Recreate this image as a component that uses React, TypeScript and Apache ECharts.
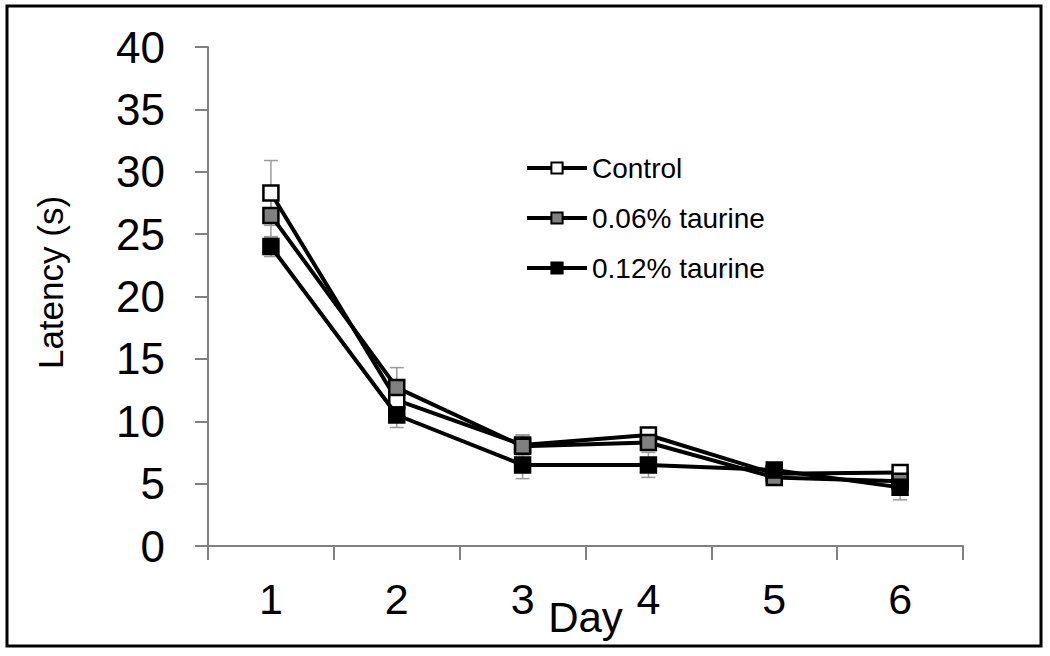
import React, { useEffect, useRef } from "react";
import * as echarts from "echarts";

const days = ["1", "2", "3", "4", "5", "6"];
const seriesNames = ["Control", "0.06% taurine", "0.12% taurine"];
const control = [28.3, 11.7, 8.1, 8.9, 5.8, 5.9];
const taurine006 = [26.5, 12.7, 8.0, 8.3, 5.5, 5.2];
const taurine012 = [24.0, 10.5, 6.5, 6.5, 6.1, 4.7];
const controlErr = [2.6, 1.2, 0.8, 0.6, 0.5, 0.5];
const taurine006Err = [1.8, 1.6, 0.9, 0.6, 0.5, 0.5];
const taurine012Err = [0.8, 1.0, 1.1, 1.0, 0.5, 1.0];
const yTicks = { min: 0, max: 40, interval: 5 };

const FONT = "Liberation Sans, Arial, sans-serif";

export default function App() {
  const ref = useRef<HTMLDivElement>(null);
  useEffect(() => {
    if (!ref.current) return;
    const chart = echarts.init(ref.current, null, { renderer: "svg" });
    const values = [control, taurine006, taurine012];
    const errs = [controlErr, taurine006Err, taurine012Err];
    const fills = ["#ffffff", "#808080", "#000000"];

    const errorSeries = values.map((vals, si) => ({
      type: "custom",
      name: seriesNames[si] + " error",
      z: 1,
      silent: true,
      data: vals.map((v, i) => [i, v - errs[si][i], v + errs[si][i]]),
      renderItem: (params: any, api: any) => {
        const x = api.value(0);
        const lo = api.coord([x, api.value(1)]);
        const hi = api.coord([x, api.value(2)]);
        const w = 7;
        const st = { stroke: "#9a9a9a", lineWidth: 1.5 };
        return {
          type: "group",
          children: [
            { type: "line", shape: { x1: lo[0], y1: lo[1], x2: hi[0], y2: hi[1] }, style: st },
            { type: "line", shape: { x1: lo[0] - w, y1: lo[1], x2: lo[0] + w, y2: lo[1] }, style: st },
            { type: "line", shape: { x1: hi[0] - w, y1: hi[1], x2: hi[0] + w, y2: hi[1] }, style: st },
          ],
        };
      },
    }));

    const lineSeries = values.map((vals, si) => ({
      type: "line",
      name: seriesNames[si],
      data: vals,
      z: 3 + si,
      symbol: "rect",
      symbolSize: 15,
      showAllSymbol: true,
      lineStyle: { color: "#000", width: 4 },
      itemStyle: { color: fills[si], borderColor: "#000", borderWidth: 2.5 },
    }));

    chart.setOption({
      animation: false,
      backgroundColor: "#ffffff",
      grid: {
        left: 208,
        right: 87,
        top: 47,
        bottom: 110,
        containLabel: false,
        outerBoundsMode: "none",
      },
      legend: {
        data: seriesNames,
        orient: "vertical",
        left: 525,
        top: 154,
        padding: 0,
        itemWidth: 60,
        itemHeight: 14,
        itemGap: 22,
        lineStyle: { width: 4, color: "#000" },
        textStyle: { fontFamily: FONT, fontSize: 28, color: "#000" },
      },
      xAxis: {
        type: "category",
        data: days,
        boundaryGap: true,
        name: "Day",
        nameLocation: "middle",
        nameGap: 50,
        nameMoveOverlap: false,
        nameTextStyle: { fontFamily: FONT, fontSize: 42, color: "#000" },
        axisLine: { lineStyle: { color: "#808080", width: 2 } },
        axisTick: { show: true, length: 14, lineStyle: { color: "#808080", width: 2 } },
        axisLabel: { fontFamily: FONT, fontSize: 43, color: "#000", margin: 31 },
        splitLine: { show: false },
      },
      yAxis: {
        type: "value",
        min: yTicks.min,
        max: yTicks.max,
        interval: yTicks.interval,
        name: "Latency (s)",
        nameLocation: "middle",
        nameGap: 140,
        nameMoveOverlap: false,
        nameTextStyle: { fontFamily: FONT, fontSize: 35, color: "#000", padding: [0, 0, 0, 28] },
        axisLine: { show: true, lineStyle: { color: "#808080", width: 2 } },
        axisTick: { show: true, length: 13, lineStyle: { color: "#808080", width: 2 } },
        axisLabel: { fontFamily: FONT, fontSize: 44, color: "#000", margin: 43 },
        splitLine: { show: false },
      },
      graphic: [
        {
          type: "rect",
          shape: { x: 7, y: 6, width: 1034, height: 640 },
          style: { fill: "none", stroke: "#000", lineWidth: 3 },
          silent: true,
        },
      ],
      series: [...errorSeries, ...lineSeries],
    });
    return () => chart.dispose();
  }, []);
  return (
    <div
      ref={ref}
      style={{ position: "fixed", left: 0, top: 0, width: 1050, height: 656, background: "#fff" }}
    />
  );
}
